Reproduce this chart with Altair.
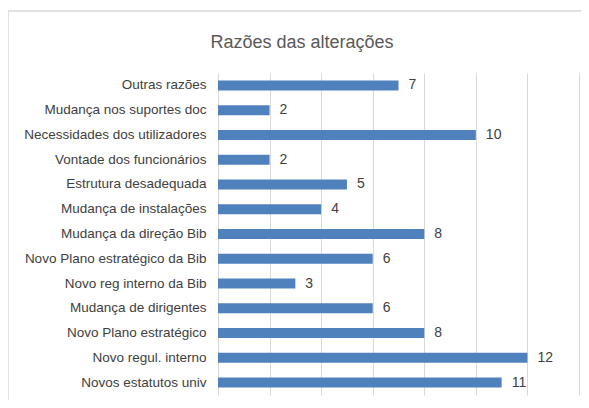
import altair as alt
import pandas as pd

categories = [
    "Outras razões",
    "Mudança nos suportes doc",
    "Necessidades dos utilizadores",
    "Vontade dos funcionários",
    "Estrutura desadequada",
    "Mudança de instalações",
    "Mudança da direção Bib",
    "Novo Plano estratégico da Bib",
    "Novo reg interno da Bib",
    "Mudança de dirigentes",
    "Novo Plano estratégico\u00a0",
    "Novo regul. interno\u00a0",
    "Novos estatutos univ",
]
values = [7, 2, 10, 2, 5, 4, 8, 6, 3, 6, 8, 12, 11]
x_ticks = [0, 2, 4, 6, 8, 10, 12, 14]
title_text = "Razões das alterações"

df = pd.DataFrame({"cat": categories, "val": values})

FONT = "Liberation Sans"

y_enc = alt.Y(
    "cat:N",
    sort=categories,
    scale=alt.Scale(paddingInner=0, paddingOuter=0),
    axis=alt.Axis(
        title=None, domain=False, ticks=False, labelPadding=12,
        labelFont=FONT, labelFontSize=13.5, labelColor="#404040",
        labelLimit=300,
    ),
)
x_enc = alt.X(
    "val:Q",
    scale=alt.Scale(domain=[0, 14], nice=False),
    axis=alt.Axis(
        title=None, domain=False, ticks=False, labels=False,
        values=x_ticks, grid=True, gridColor="#d9d9d9",
    ),
)

border = alt.Chart(pd.DataFrame({"a": [0]})).mark_rect(
    fill=None, stroke="#d9d9d9", strokeWidth=1.5, clip=False
).encode(
    x=alt.value(-210), x2=alt.value(420), y=alt.value(-62), y2=alt.value(360)
)

title = alt.Chart(pd.DataFrame({"t": [title_text]})).mark_text(
    align="center", baseline="alphabetic", font=FONT, fontSize=18,
    color="#595959", clip=False
).encode(x=alt.value(84), y=alt.value(-25), text="t:N")

bars = alt.Chart(df).mark_bar(color="#4F81BD", size=10).encode(x=x_enc, y=y_enc)

labels = alt.Chart(df).mark_text(
    align="left", baseline="middle", dx=10, font=FONT, fontSize=14, color="#404040"
).encode(x="val:Q", y=alt.Y("cat:N", sort=categories), text="val:Q")

chart = alt.layer(border, title, bars, labels).properties(
    width=361,
    height=322,
    autosize=alt.AutoSizeParams(type="none"),
    padding={"left": 210, "top": 65, "right": 2, "bottom": 5},
).configure_view(stroke=None)

chart.save("out.html", embed_options={"renderer": "svg", "actions": False})
